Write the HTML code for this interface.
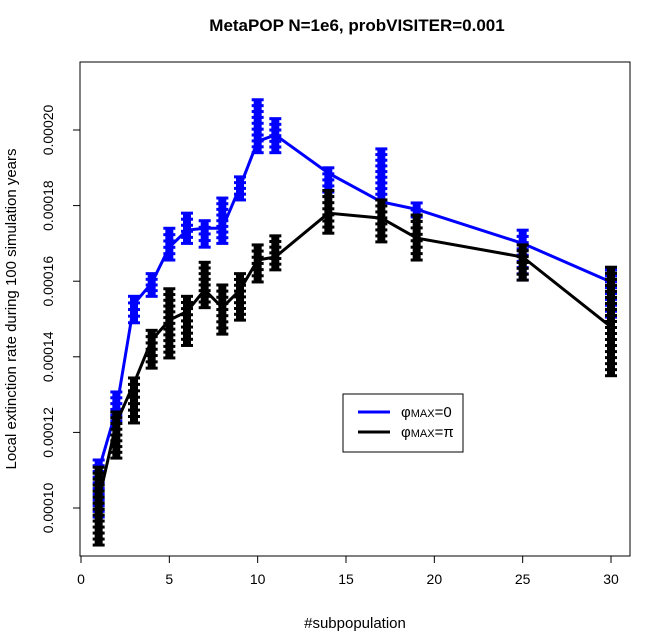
<!DOCTYPE html>
<html><head><meta charset="utf-8"><style>
body{margin:0;background:#fff;}
svg{display:block;font-family:"Liberation Sans",sans-serif;}
</style></head><body>
<svg id="chart" width="654" height="644" viewBox="0 0 654 644" xmlns="http://www.w3.org/2000/svg">
<rect width="654" height="644" fill="#fff"/>
<text x="357" y="31" text-anchor="middle" font-size="17" font-weight="bold">MetaPOP N=1e6, probVISITER=0.001</text>
<rect x="80" y="62" width="550" height="494" fill="none" stroke="#000" stroke-width="1"/>
<g id="xaxis"></g>
<g id="yaxis"></g>
<g id="marks"></g>
<text x="355" y="628" text-anchor="middle" font-size="15">#subpopulation</text>
<text transform="translate(16,309) rotate(-90)" text-anchor="middle" font-size="15">Local extinction rate during 100 simulation years</text>
<g>
<rect x="343" y="394" width="120" height="58" fill="#fff" stroke="#000" stroke-width="1"/>
<line x1="358" y1="412" x2="390" y2="412" stroke="#0000ff" stroke-width="3"/>
<text x="401" y="417" font-size="15">φ<tspan font-size="11">MAX</tspan>=0</text>
<line x1="358" y1="432" x2="390" y2="432" stroke="#000" stroke-width="3"/>
<text x="401" y="437" font-size="15">φ<tspan font-size="11">MAX</tspan>=π</text>
</g>
</svg>
<script>
const xs = [1,2,3,4,5,6,7,8,9,10,11,14,17,19,25,30];
const blueMean = [110,126,154,159.5,169,173.5,174,174,185,197,198.7,188.6,181,179,170,159.8];
const blueMin = [97.6,123,149,156,165.6,170,169,170,181.5,194,194,183.6,181.5,177,160.3,150.5];
const blueMax = [112.7,130.7,156,162,174,178,176,182,187.6,208,203,190,195,180.7,173.5,163];
const blackMean = [102,122.5,133,144.4,149.7,152,157.7,153,157.7,165.6,166.4,178,176.7,171.4,166.4,147.9];
const blackMin = [90.2,113.2,122.5,137,139.7,143,153,146,149.7,159.8,163,172.7,170.4,165.6,160.3,135];
const blackMax = [110.8,125.4,134.4,147,158,156,165,159,162,169.6,172,184,181.5,177.5,169.6,163.7];
const xTicks = [0,5,10,15,20,25,30];
const yTicks = [100,120,140,160,180,200];
const yTickLabels = ["0.00010","0.00012","0.00014","0.00016","0.00018","0.00020"];

const NS="http://www.w3.org/2000/svg";
function X(v){return 81 + v*(611-81)/30;}
function Y(v){return 508 - (v-100)*3.78;}
function mk(tag,attrs,parent){const e=document.createElementNS(NS,tag);for(const k in attrs)e.setAttribute(k,attrs[k]);parent.appendChild(e);return e;}
const xa=document.getElementById('xaxis'), ya=document.getElementById('yaxis'), mg=document.getElementById('marks');
mk('line',{x1:X(0),x2:X(30),y1:556,y2:556,stroke:'#000'},xa);
xTicks.forEach(t=>{
  const l=mk('line',{x1:X(t),x2:X(t),y1:556,y2:563,stroke:'#000'},xa);
  
  
  const tx=mk('text',{x:X(t),y:584,'text-anchor':'middle','font-size':14},xa);tx.textContent=t;
  
  
});
mk('line',{x1:80,x2:80,y1:Y(100),y2:Y(200),stroke:'#000'},ya);
yTicks.forEach((t,i)=>{
  const l=mk('line',{x1:73,x2:80,y1:Y(t),y2:Y(t),stroke:'#000'},ya);
  
  
  const tx=mk('text',{transform:`translate(53,${Y(t)}) rotate(-90)`,'text-anchor':'middle','font-size':14},ya);tx.textContent=yTickLabels[i];
  
  
});
function series(mean,mn,mx,color,name){
  const g=mk('g',{},mg);
  
  
  xs.forEach((x,i)=>{
    const cx=X(x), y1=Y(mx[i]), y2=Y(mn[i]);
    const b=mk('line',{x1:cx,x2:cx,y1:y1,y2:y2,stroke:color,'stroke-width':8},g);
    
    
    const n=Math.max(1,Math.round((y2-y1)/6));
    for(let k=0;k<=n;k++){
      const yy=y1+(y2-y1)*k/n;
      mk('line',{x1:cx-6,x2:cx+6,y1:yy,y2:yy,stroke:color,'stroke-width':3},g);
    }
  });
  const p=mk('polyline',{points:xs.map((x,i)=>X(x)+','+Y(mean[i])).join(' '),fill:'none',stroke:color,'stroke-width':3},g);
  
  
}
series(blueMean,blueMin,blueMax,'#0000ff','series-phi0');
series(blackMean,blackMin,blackMax,'#000000','series-phipi');
</script>
</body></html>
